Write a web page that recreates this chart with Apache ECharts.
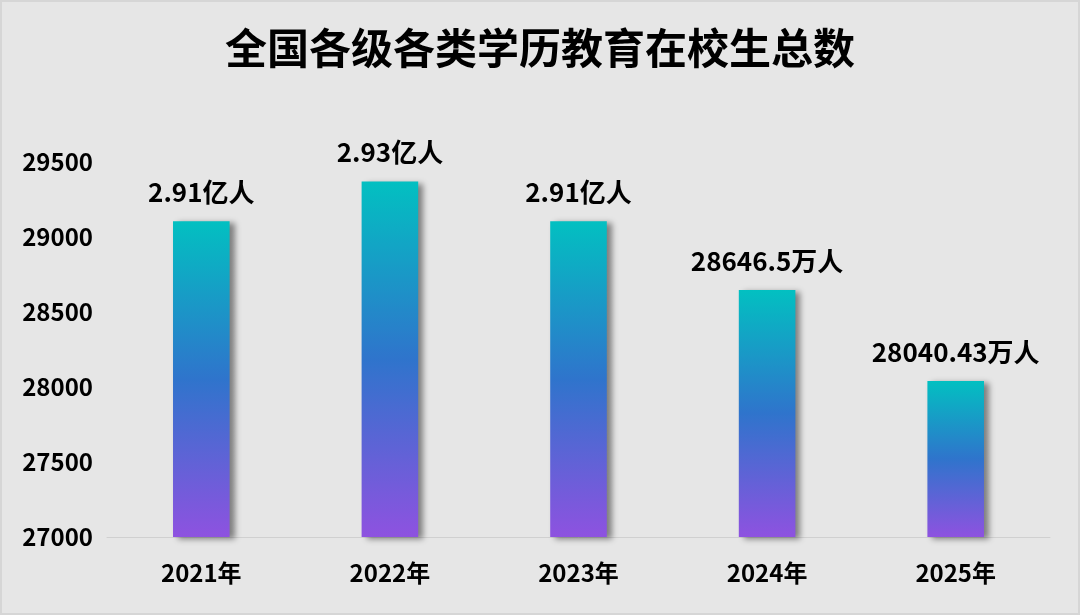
<!DOCTYPE html>
<html>
<head>
<meta charset="utf-8">
<script src="https://cdn.jsdelivr.net/npm/echarts@6/dist/echarts.min.js"></script>
<style>
    html, body { margin: 0; padding: 0; background: #e6e6e6; }
    #main { width: 1080px; height: 615px; box-sizing: border-box; border: 2px solid #d6d6d6; }
</style>
</head>
<body>
<div id="main"></div>
<script>
// 数据
var years = ['2021年', '2022年', '2023年', '2024年', '2025年'];
var students = [29105, 29370, 29105, 28646.5, 28040.43]; // 万人
var labelTexts = ['2.91亿人', '2.93亿人', '2.91亿人', '28646.5万人', '28040.43万人'];
var yTicks = [27000, 27500, 28000, 28500, 29000, 29500];

var cnFont = '"Noto Sans CJK SC", "Noto Sans", sans-serif';

var chart = echarts.init(document.getElementById('main'));

var option = {
    backgroundColor: '#e6e6e6',
    title: {
        text: '全国各级各类学历教育在校生总数',
        left: 'center',
        top: 20,
        textStyle: {
            color: '#000',
            fontFamily: cnFont,
            fontWeight: 'bold',
            fontSize: 42
        }
    },
    grid: {
        top: 160,
        left: 105,
        right: 28,
        bottom: 76,
        containLabel: false
    },
    xAxis: {
        type: 'category',
        data: years,
        axisLine: { show: true, lineStyle: { color: '#d0d0d0', width: 1 } },
        axisTick: { show: false },
        axisLabel: {
            color: '#000',
            fontFamily: cnFont,
            fontWeight: 'bold',
            fontSize: 24,
            margin: 24
        }
    },
    yAxis: {
        type: 'value',
        min: yTicks[0],
        max: yTicks[yTicks.length - 1],
        interval: 500,
        axisLine: { show: false },
        axisTick: { show: false },
        splitLine: { show: false },
        axisLabel: {
            color: '#000',
            fontFamily: cnFont,
            fontWeight: 'bold',
            fontSize: 24,
            margin: 14,
            formatter: function (v) { return String(v); }
        }
    },
    series: [{
        type: 'bar',
        data: students,
        barWidth: '30%',
        itemStyle: {
            color: new echarts.graphic.LinearGradient(0, 0, 0, 1, [
                { offset: 0, color: '#02c0c1' },
                { offset: 0.5, color: '#2f74cc' },
                { offset: 1, color: '#8e52e0' }
            ]),
            shadowColor: 'rgba(0,0,0,0.45)',
            shadowBlur: 6,
            shadowOffsetX: 5,
            shadowOffsetY: 2
        },
        label: {
            show: true,
            position: 'top',
            distance: 16,
            color: '#000',
            fontFamily: cnFont,
            fontWeight: 'bold',
            fontSize: 26,
            formatter: function (p) { return labelTexts[p.dataIndex]; }
        }
    }]
};

chart.setOption(option);
</script>
</body>
</html>
